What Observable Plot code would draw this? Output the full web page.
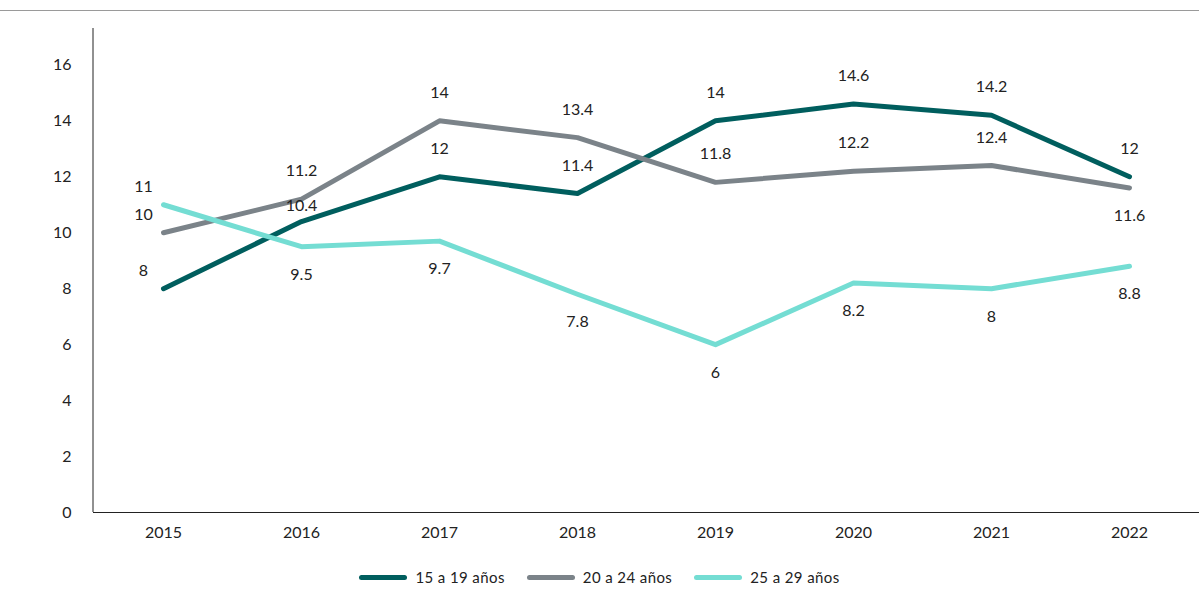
<!DOCTYPE html>
<html><head><meta charset="utf-8">
<script src="https://cdn.jsdelivr.net/npm/d3@7"></script>
<script src="https://cdn.jsdelivr.net/npm/@observablehq/plot@0.6"></script>
<style>
body{margin:0;background:#fff;font-family:Lato,"Noto Sans",sans-serif;}
#top{position:absolute;left:0;top:10px;width:1199px;border-top:1px solid #9a9a9a;}
#chart{position:absolute;left:0;top:0;}
#legend{position:absolute;top:568px;left:0;width:1199px;display:flex;justify-content:center;gap:22px;font-size:15px;color:#222;letter-spacing:0.4px;}
#legend span{display:flex;align-items:center;gap:8px;}
#legend i{display:inline-block;width:48px;height:5px;border-radius:3px;}
</style></head><body>
<div id="top"></div><div id="chart"></div>
<div id="legend"></div>
<script>
const years = [2015, 2016, 2017, 2018, 2019, 2020, 2021, 2022];
const seriesNames = ["15 a 19 años", "20 a 24 años", "25 a 29 años"];
const s1519 = [8, 10.4, 12, 11.4, 14, 14.6, 14.2, 12];
const s2024 = [10, 11.2, 14, 13.4, 11.8, 12.2, 12.4, 11.6];
const s2529 = [11, 9.5, 9.7, 7.8, 6, 8.2, 8, 8.8];
const colors = ["#005e5e", "#7b8389", "#74ddd3"];
const yTicks = [0, 2, 4, 6, 8, 10, 12, 14, 16];

const vals = [s1519, s2024, s2529];
const data = vals.flatMap((v, s) => v.map((y, i) => ({year: years[i], value: y, series: seriesNames[s], s, i})));
// label placement: "a" above, "b" below, "l" left-above, "n" just above
const place = [
  ["l","n","a","a","a","a","a","a"],
  ["l","a","a","a","a","a","a","b"],
  ["l","b","b","b","b","b","b","b"]
];
data.forEach(d => d.p = place[d.s][d.i]);

const font = 16;
const txt = (p, opts) => Plot.text(data.filter(d => d.p === p), {x: "year", y: "value", text: d => String(d.value), fontSize: font, fill: "#222", ...opts});

const chart = Plot.plot({
  width: 1199, height: 547,
  marginLeft: 93, marginRight: 0, marginTop: 28, marginBottom: 35,
  style: {fontFamily: "Lato, 'Noto Sans', sans-serif", fontSize: "16px", color: "#222"},
  x: {type: "point", domain: years, padding: 0.5, label: null, tickSize: 0, tickPadding: 14, tickFormat: d => String(d)},
  y: {domain: [0, 17.3], ticks: yTicks, label: null, tickSize: 0, tickPadding: 22},
  color: {domain: seriesNames, range: colors},
  marks: [
    Plot.ruleY([0], {stroke: "#222"}),
    Plot.lineY(data, {x: "year", y: "value", z: "series", stroke: "series", strokeWidth: 5}),
    txt("a", {dy: -28}),
    txt("n", {dy: -16}),
    txt("b", {dy: 28}),
    txt("l", {dx: -20, dy: -18})
  ]
});
document.getElementById("chart").append(chart);
d3.select(chart).append("line").attr("x1",93).attr("x2",93).attr("y1",28).attr("y2",512).attr("stroke","#222");

const lg = document.getElementById("legend");
seriesNames.forEach((n, k) => {
  const s = document.createElement("span");
  s.innerHTML = `<i style="background:${colors[k]}"></i>${n}`;
  lg.append(s);
});
</script></body></html>
